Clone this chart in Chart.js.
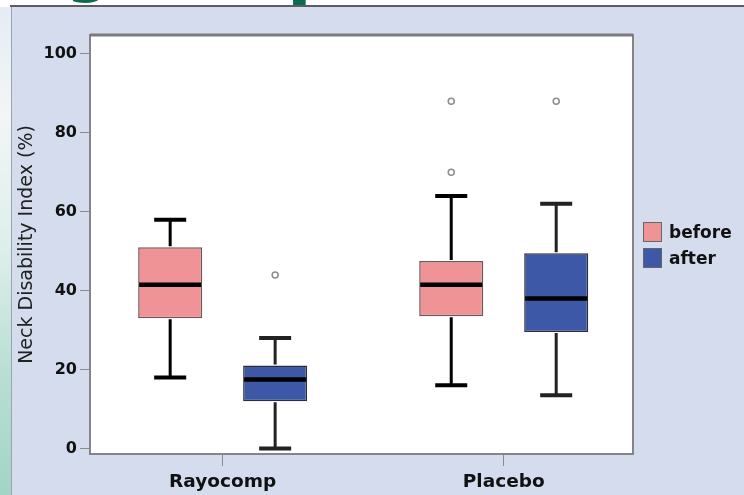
<!DOCTYPE html>
<html>
<head>
<meta charset="utf-8">
<script src="https://cdn.jsdelivr.net/npm/chart.js@4.4.1/dist/chart.umd.min.js"></script>
<style>
  html, body { margin: 0; padding: 0; background: #fff; }
  #wrap { position: relative; width: 744px; height: 495px; overflow: hidden; background: #fff; }
  #head { position: absolute; left: 0; top: 0; width: 744px; height: 5px; overflow: hidden; }
  #head span { position: absolute; font-family: "DejaVu Sans"; font-weight: bold; line-height: 1; color: #0b6b4f; }
  #topline { position: absolute; left: 10px; top: 5px; right: 0; height: 2px; background: #5e5e5e; }
  #strip { position: absolute; left: 0; top: 7px; width: 11px; bottom: 0;
    background: linear-gradient(to bottom, #e6ecf4 0%, #f2f6f4 22%, #dcefe8 50%, #b9dfd2 75%, #a3d5c4 100%); }
  #panel { position: absolute; left: 11px; top: 7px; right: 0; bottom: 0; background: #d4dcee; border-left: 1px solid #9aa3b3; }
  canvas { position: absolute; left: 0; top: 0; }
  #legend { position: absolute; left: 643px; top: 219px; font: bold 17px "DejaVu Sans"; color: #111; }
  #legend div { height: 26px; display: flex; align-items: center; }
  #legend i { display: inline-block; width: 19px; height: 20px; margin-right: 7px; box-sizing: border-box; border: 1px solid #666; }
</style>
</head>
<body>
<div id="wrap">
  <div id="head"><span style="left:66px;top:-62px;font-size:62px">g</span><span style="left:287px;top:-70px;font-size:72px">p</span></div>
  <div id="topline"></div>
  <div id="panel"></div>
  <div id="strip"></div>
  <canvas id="box" width="744" height="495"></canvas>
  <div id="legend"></div>
</div>
<script>
const categories = ['Rayocomp', 'Placebo'];
const seriesNames = ['before', 'after'];
const seriesColors = ['#f09396', '#3d58a6'];

const beforeMin = [18, 16];
const beforeQ1 = [33, 33.5];
const beforeMedian = [41.5, 41.5];
const beforeQ3 = [51, 47.5];
const beforeMax = [58, 64];
const beforeOutliers = [[], [70, 88]];

const afterMin = [0, 13.5];
const afterQ1 = [12, 29.5];
const afterMedian = [17.5, 38];
const afterQ3 = [21, 49.5];
const afterMax = [28, 62];
const afterOutliers = [[44], [88]];

const yTicks = [0, 20, 40, 60, 80, 100];

function boxData(q1, q3) {
  return categories.map((c, i) => ({ x: i, y: [q1[i], q3[i]] }));
}

// whiskers, caps, medians and outliers on top of the floating bars
const boxPlot = {
  id: 'boxPlot',
  beforeDraw(chart) {
    const a = chart.chartArea, ctx = chart.ctx;
    ctx.save();
    ctx.fillStyle = '#fff';
    ctx.fillRect(a.left, a.top, a.right - a.left, a.bottom - a.top);
    ctx.restore();
  },
  afterDatasetsDraw(chart) {
    const ctx = chart.ctx, y = chart.scales.y;
    chart.data.datasets.forEach((ds, d) => {
      const st = ds.stats;
      chart.getDatasetMeta(d).data.forEach((bar, i) => {
        const x = bar.x, half = bar.width / 4;
        ctx.save();
        ctx.strokeStyle = st.whisker;
        ctx.lineWidth = 3;
        ctx.beginPath();
        ctx.moveTo(x, y.getPixelForValue(st.max[i]));
        ctx.lineTo(x, y.getPixelForValue(ds.data[i].y[1]) - 1);
        ctx.moveTo(x, y.getPixelForValue(ds.data[i].y[0]) + 1);
        ctx.lineTo(x, y.getPixelForValue(st.min[i]));
        ctx.stroke();
        ctx.lineWidth = 4;
        ctx.beginPath();
        [st.max[i], st.min[i]].forEach(v => {
          const py = y.getPixelForValue(v);
          ctx.moveTo(x - half, py);
          ctx.lineTo(x + half, py);
        });
        ctx.stroke();
        ctx.strokeStyle = '#000';
        ctx.lineWidth = 4.5;
        ctx.beginPath();
        const my = y.getPixelForValue(st.median[i]);
        ctx.moveTo(x - bar.width / 2 + 1, my);
        ctx.lineTo(x + bar.width / 2 - 1, my);
        ctx.stroke();
        ctx.strokeStyle = '#8c8c8c';
        ctx.fillStyle = '#fff';
        ctx.lineWidth = 1.5;
        st.outliers[i].forEach(v => {
          ctx.beginPath();
          ctx.arc(x, y.getPixelForValue(v), 3, 0, Math.PI * 2);
          ctx.fill();
          ctx.stroke();
        });
        ctx.restore();
      });
    });
  },
  afterDraw(chart) {
    const a = chart.chartArea, ctx = chart.ctx;
    ctx.save();
    ctx.strokeStyle = '#858585';
    ctx.lineWidth = 2;
    ctx.strokeRect(a.left, a.top, a.right - a.left, a.bottom - a.top);
    ctx.lineWidth = 3;
    ctx.strokeStyle = '#7a7a7a';
    ctx.beginPath();
    ctx.moveTo(a.left, a.top);
    ctx.lineTo(a.right, a.top);
    ctx.stroke();
    ctx.restore();
  }
};

new Chart(document.getElementById('box').getContext('2d'), {
  type: 'bar',
  data: {
    datasets: [
      {
        label: seriesNames[0],
        data: boxData(beforeQ1, beforeQ3),
        backgroundColor: seriesColors[0],
        borderColor: '#6e5556',
        borderWidth: 1.5,
        borderSkipped: false,
        barPercentage: 0.61,
        categoryPercentage: 0.747,
        stats: { min: beforeMin, median: beforeMedian, max: beforeMax, outliers: beforeOutliers, whisker: '#000' }
      },
      {
        label: seriesNames[1],
        data: boxData(afterQ1, afterQ3),
        backgroundColor: seriesColors[1],
        borderColor: '#2b2f3d',
        borderWidth: 1.5,
        borderSkipped: false,
        barPercentage: 0.61,
        categoryPercentage: 0.747,
        stats: { min: afterMin, median: afterMedian, max: afterMax, outliers: afterOutliers, whisker: '#222' }
      }
    ]
  },
  options: {
    responsive: false,
    devicePixelRatio: 1,
    animation: false,
    layout: { padding: { left: 0, top: 35, right: 111, bottom: 0 } },
    plugins: {
      legend: { display: false },
      tooltip: { enabled: false }
    },
    scales: {
      x: {
        type: 'linear',
        min: -0.472,
        max: 1.46,
        bounds: 'data',
        offset: false,
        afterBuildTicks: s => { s.ticks = categories.map((c, i) => ({ value: i })); },
        afterFit: s => { s.height = 41; },
        grid: { offset: false, drawOnChartArea: false, drawTicks: true, tickLength: 12, color: '#8a8a8a' },
        border: { display: false },
        ticks: {
          callback: v => categories[v],
          color: '#111',
          padding: 5,
          maxRotation: 0,
          font: { family: 'DejaVu Sans', size: 18.5, weight: 'bold' }
        }
      },
      y: {
        min: -1.4,
        max: 104.8,
        bounds: 'data',
        afterBuildTicks: s => { s.ticks = yTicks.map(v => ({ value: v })); },
        afterFit: s => { s.width = 90; },
        grid: { drawOnChartArea: false, drawTicks: true, tickLength: 10, color: '#8a8a8a' },
        border: { display: false },
        ticks: {
          color: '#111',
          padding: 3,
          font: { family: 'DejaVu Sans', size: 16, weight: 'bold' }
        },
        title: {
          display: true,
          text: 'Neck Disability Index (%)',
          color: '#222',
          padding: { top: 16, bottom: 0 },
          font: { family: 'DejaVu Sans', size: 19 }
        }
      }
    }
  },
  plugins: [boxPlot]
});

document.getElementById('legend').innerHTML = seriesNames
  .map((n, i) => '<div><i style="background:' + seriesColors[i] + '"></i>' + n + '</div>')
  .join('');
</script>
</body>
</html>
